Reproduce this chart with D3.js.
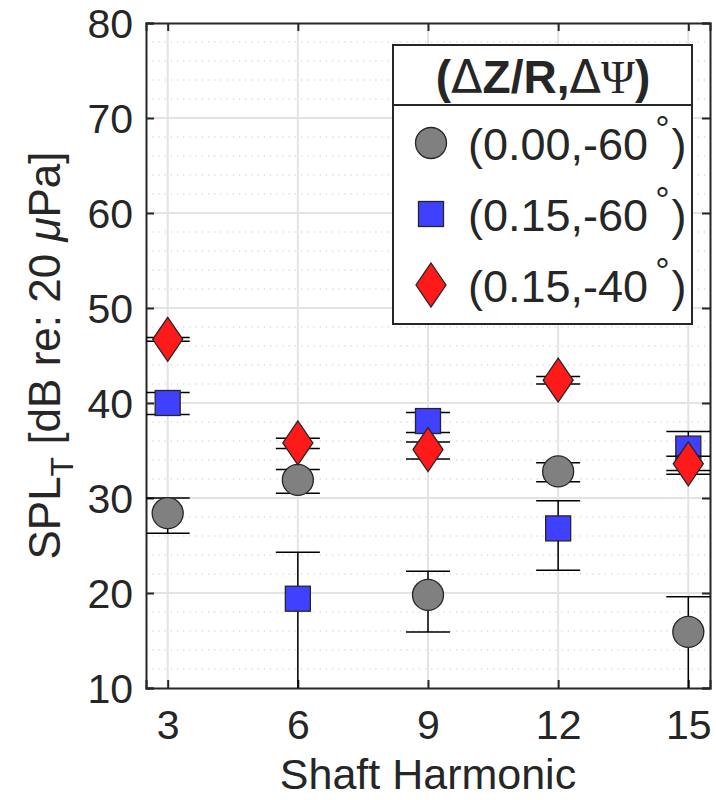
<!DOCTYPE html>
<html>
<head>
<meta charset="utf-8">
<script src="https://cdn.jsdelivr.net/npm/d3@7"></script>
<style>
  body { margin: 0; background: #fff; }
  text { font-family: "Liberation Sans", Arial, sans-serif; fill: #262626; }
</style>
</head>
<body>
<div id="chart"></div>
<script>
const harmonics = [3, 6, 9, 12, 15];
const yTicks = [10, 20, 30, 40, 50, 60, 70, 80];

// (0.00,-60°)
const circleMean  = [28.4, 31.9, 19.8, 32.8, 15.9];
const circleUpper = [30.0, 33.0, 22.3, 33.7, 19.6];
const circleLower = [26.3, 30.5, 15.9, 31.7, 8.0];
// (0.15,-60°)
const squareMean  = [40.0, 19.4, 38.1, 26.8, 35.2];
const squareUpper = [41.1, 24.3, 39.0, 29.7, 37.0];
const squareLower = [38.8, 8.0, 36.9, 22.4, 32.9];
// (0.15,-40°)
const diamondMean  = [46.7, 35.8, 35.1, 42.4, 33.6];
const diamondUpper = [46.9, 36.3, 35.9, 42.8, 34.4];
const diamondLower = [46.5, 35.2, 34.1, 42.0, 32.5];

const seriesLabels = ['(0.00,-60', '(0.15,-60', '(0.15,-40'];

const width = 716, height = 800;
const margin = {left: 146, right: 6, top: 23, bottom: 112};

const svg = d3.select('#chart').append('svg')
    .attr('width', width)
    .attr('height', height);

const x = d3.scaleLinear().domain([2.5, 15.5]).range([margin.left, width - margin.right]);
const y = d3.scaleLinear().domain([10, 80]).range([height - margin.bottom, margin.top]);

const plotW = x.range()[1] - x.range()[0];
const plotH = y.range()[0] - y.range()[1];

svg.append('defs').append('clipPath').attr('id', 'clip')
    .append('rect')
    .attr('x', margin.left).attr('y', margin.top)
    .attr('width', plotW).attr('height', plotH);

// minor grid (dotted)
const minor = d3.range(12, 80, 2).filter(v => v % 10 !== 0);
svg.append('g')
    .selectAll('line')
    .data(minor)
    .join('line')
    .attr('x1', margin.left).attr('x2', margin.left + plotW)
    .attr('y1', d => y(d)).attr('y2', d => y(d))
    .attr('stroke', '#c8c8c8')
    .attr('stroke-width', 1.2)
    .attr('stroke-dasharray', '1.2,5');

// major grid
const grid = svg.append('g').attr('stroke', '#e3e3e3').attr('stroke-width', 2);
grid.selectAll('.gy')
    .data(yTicks.slice(1, -1))
    .join('line')
    .attr('x1', margin.left).attr('x2', margin.left + plotW)
    .attr('y1', d => y(d)).attr('y2', d => y(d));
grid.selectAll('.gx')
    .data(harmonics)
    .join('line')
    .attr('y1', margin.top).attr('y2', margin.top + plotH)
    .attr('x1', d => x(d)).attr('x2', d => x(d));

// axes (ticks inward, box)
const axisColor = '#262626';
const xAxis = svg.append('g')
    .attr('transform', `translate(0,${y(10)})`)
    .call(d3.axisBottom(x).tickValues(harmonics).tickSize(-8).tickPadding(22));
const xTop = svg.append('g')
    .attr('transform', `translate(0,${y(80)})`)
    .call(d3.axisTop(x).tickValues(harmonics).tickSize(-8).tickFormat(''));
const yAxis = svg.append('g')
    .attr('transform', `translate(${x(2.5)},0)`)
    .call(d3.axisLeft(y).tickValues(yTicks).tickSize(-8).tickPadding(13));
const yRight = svg.append('g')
    .attr('transform', `translate(${x(15.5)},0)`)
    .call(d3.axisRight(y).tickValues(yTicks).tickSize(-8).tickFormat(''));

[xAxis, xTop, yAxis, yRight].forEach(a => {
    a.select('.domain').attr('stroke', axisColor).attr('stroke-width', 2);
    a.selectAll('.tick line').attr('stroke', axisColor).attr('stroke-width', 2);
    a.selectAll('.tick text')
        .attr('fill', axisColor)
        .style('font-size', '41px')
        .style('font-family', '"Liberation Sans", Arial, sans-serif');
});
yAxis.selectAll('.tick text').attr('dy', '0.36em');

// error bars and markers
const series = [
    {mean: circleMean, upper: circleUpper, lower: circleLower, shape: 'circle', fill: '#808080'},
    {mean: squareMean, upper: squareUpper, lower: squareLower, shape: 'square', fill: '#4040ff'},
    {mean: diamondMean, upper: diamondUpper, lower: diamondLower, shape: 'diamond', fill: '#ff1a1a'}
];

const capHalf = 22;

function drawMarker(g, shape, fill) {
    if (shape === 'circle') {
        g.append('circle').attr('r', 15.5);
    } else if (shape === 'square') {
        g.append('rect').attr('x', -12.5).attr('y', -12.5).attr('width', 25).attr('height', 25);
    } else {
        g.append('path').attr('d', 'M0,-22 L15,0 L0,22 L-15,0 Z');
    }
    g.selectAll('circle,rect,path')
        .attr('fill', fill)
        .attr('stroke', '#262626')
        .attr('stroke-width', 1.3);
}

const plot = svg.append('g').attr('clip-path', 'url(#clip)');

series.forEach(s => {
    const rows = harmonics.map((h, i) => ({h, m: s.mean[i], u: s.upper[i], l: s.lower[i]}));
    const eb = plot.append('g').attr('stroke', '#000').attr('stroke-width', 1.5);
    eb.selectAll('.v').data(rows).join('line')
        .attr('x1', d => x(d.h)).attr('x2', d => x(d.h))
        .attr('y1', d => y(d.u)).attr('y2', d => y(d.l));
    eb.selectAll('.cu').data(rows).join('line')
        .attr('x1', d => x(d.h) - capHalf).attr('x2', d => x(d.h) + capHalf)
        .attr('y1', d => y(d.u)).attr('y2', d => y(d.u));
    eb.selectAll('.cl').data(rows).join('line')
        .attr('x1', d => x(d.h) - capHalf).attr('x2', d => x(d.h) + capHalf)
        .attr('y1', d => y(d.l)).attr('y2', d => y(d.l));
    rows.forEach(d => {
        const g = plot.append('g').attr('transform', `translate(${x(d.h)},${y(d.m)})`);
        drawMarker(g, s.shape, s.fill);
    });
});

// legend
const lg = svg.append('g').attr('transform', 'translate(393,45)');
lg.append('rect')
    .attr('width', 299).attr('height', 279)
    .attr('fill', '#fff').attr('stroke', axisColor).attr('stroke-width', 2);
lg.append('line')
    .attr('x1', 0).attr('x2', 299).attr('y1', 60).attr('y2', 60)
    .attr('stroke', axisColor).attr('stroke-width', 2);
const title = lg.append('text')
    .attr('x', 150).attr('y', 48)
    .attr('text-anchor', 'middle')
    .style('font-size', '46px')
    .style('font-weight', 'bold')
    .attr('fill', '#000');
title.append('tspan').text('(');
title.append('tspan').style('font-family', '"DejaVu Sans", sans-serif').style('font-weight', 'normal').text('\u0394');
title.append('tspan').text('Z/R,');
title.append('tspan').style('font-family', '"DejaVu Sans", sans-serif').style('font-weight', 'normal').text('\u0394');
title.append('tspan').style('font-family', '"Liberation Serif", serif').style('font-weight', 'normal').text('\u03A8');
title.append('tspan').text(')');

seriesLabels.forEach((lab, i) => {
    const cy = 98 + i * 71;
    const g = lg.append('g').attr('transform', `translate(38,${cy})`);
    drawMarker(g, series[i].shape, series[i].fill);
    const t = lg.append('text')
        .attr('x', 75).attr('y', cy + 17)
        .attr('fill', '#000')
        .style('font-size', '45px');
    t.append('tspan').text(lab);
    t.append('tspan').attr('dx', 7).attr('dy', -18).style('font-size', '36px').text('\u00B0');
    t.append('tspan').attr('dx', 2).attr('dy', 18).text(')');
});

// axis labels
svg.append('text')
    .attr('x', x(9)).attr('y', 789)
    .attr('text-anchor', 'middle')
    .style('font-size', '43px')
    .text('Shaft Harmonic');

const yl = svg.append('text')
    .attr('transform', `translate(60,${(y(10) + y(80)) / 2}) rotate(-90)`)
    .attr('text-anchor', 'middle')
    .style('font-size', '44px');
yl.append('tspan').text('SPL');
yl.append('tspan').attr('dy', 13).style('font-size', '32px').text('T');
yl.append('tspan').attr('dy', -13).text(' [dB re: 20 ');
yl.append('tspan').style('font-style', 'italic').text('\u03BC');
yl.append('tspan').text('Pa]');
</script>
</body>
</html>
